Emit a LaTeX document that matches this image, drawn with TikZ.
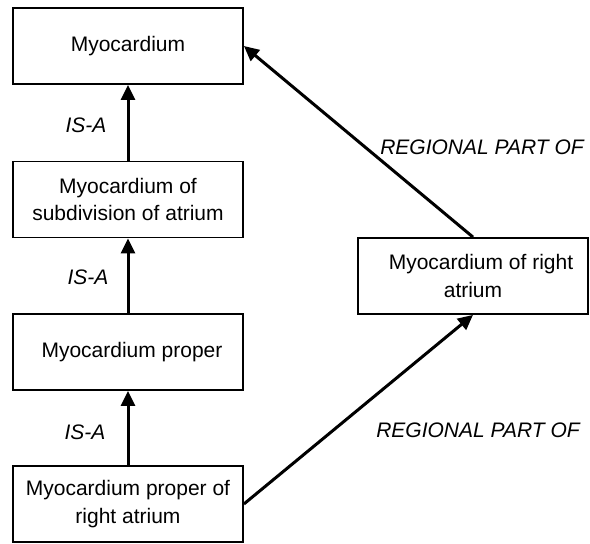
\documentclass[tikz,border=0pt]{standalone}
\usepackage{fontspec}
\setmainfont{Liberation Sans}
\usetikzlibrary{arrows.meta}
\begin{document}
\begin{tikzpicture}[x=1pt,y=-1pt,
  box/.style={draw,line width=1.8pt,minimum width=230pt,minimum height=76pt,inner sep=0pt,align=center,font=\fontsize{21}{27.5}\selectfont},
  rel/.style={font=\fontsize{21}{26}\selectfont\itshape,inner sep=0pt},
  link/.style={line width=3pt,-{Triangle[length=15pt,width=14pt]}}]
\useasboundingbox (0,0) rectangle (590,544);
\node[box] (m) at (128,46) {Myocardium};
\node[box] (ms) at (128,199.5) {Myocardium of\\subdivision of atrium};
\node[box] (mp) at (128,352) {\hspace*{8pt}Myocardium proper};
\node[box] (mpr) at (128,504) {Myocardium proper of\\right atrium};
\node[box] (mr) at (473,276) {\hspace*{16pt}Myocardium of right\\atrium};
\draw[link] (ms.north) -- (m.south);
\draw[link] (mp.north) -- (ms.south);
\draw[link] (mpr.north) -- (mp.south);
\draw[link] (mr.north) -- (m.east);
\draw[link] (mpr.east) -- (mr.south);
\node[rel] (l1) at (86,125) {IS-A};
\node[rel] (l2) at (88,277) {IS-A};
\node[rel] (l3) at (85,432) {IS-A};
\node[rel] (r1) at (482,147) {REGIONAL PART OF};
\node[rel] (r2) at (478,430) {REGIONAL PART OF};
\end{tikzpicture}
\end{document}
